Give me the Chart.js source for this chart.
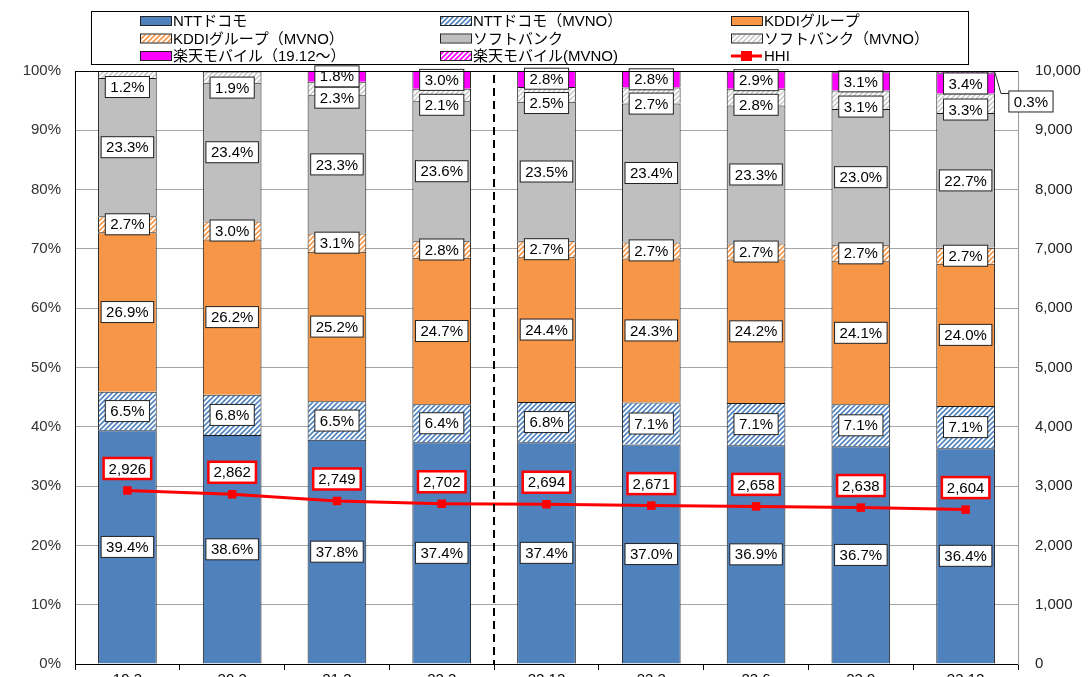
<!DOCTYPE html>
<html>
<head>
<meta charset="utf-8">
<script src="https://cdn.jsdelivr.net/npm/chart.js@4.4.1/dist/chart.umd.min.js"></script>
<style>
  html, body { margin: 0; padding: 0; background: #fff; overflow: hidden; }
  #wrap { width: 1091px; height: 700px; }
</style>
</head>
<body>
<div id="wrap"><canvas id="myChart" width="1091" height="700"></canvas></div>
<script>
const FONT = '"Liberation Sans", Arial, "Noto Sans CJK JP", sans-serif';

// datos (%), lectura del gráfico
const categories = ['19.3', '20.3', '21.3', '22.3', '22.12', '23.3', '23.6', '23.9', '23.12'];
const docomo      = [39.4, 38.6, 37.8, 37.4, 37.4, 37.0, 36.9, 36.7, 36.4];
const docomoMvno  = [6.5, 6.8, 6.5, 6.4, 6.8, 7.1, 7.1, 7.1, 7.1];
const kddi        = [26.9, 26.2, 25.2, 24.7, 24.4, 24.3, 24.2, 24.1, 24.0];
const kddiMvno    = [2.7, 3.0, 3.1, 2.8, 2.7, 2.7, 2.7, 2.7, 2.7];
const softbank    = [23.3, 23.4, 23.3, 23.6, 23.5, 23.4, 23.3, 23.0, 22.7];
const softbankMvno = [1.2, 1.9, 2.3, 2.1, 2.5, 2.7, 2.8, 3.1, 3.3];
const rakuten     = [null, null, 1.8, 3.0, 2.8, 2.8, 2.9, 3.1, 3.4];
const rakutenMvno = [null, null, null, null, null, null, null, null, 0.3];
const hhi         = [2926, 2862, 2749, 2702, 2694, 2671, 2658, 2638, 2604];

const leftTicks = [0, 10, 20, 30, 40, 50, 60, 70, 80, 90, 100];
const rightTicks = [0, 1000, 2000, 3000, 4000, 5000, 6000, 7000, 8000, 9000, 10000];

const ctx = document.getElementById('myChart').getContext('2d');

// rayado diagonal tipo Excel
function hatch(color, size, width) {
    const c = document.createElement('canvas');
    c.width = size; c.height = size;
    const g = c.getContext('2d');
    g.fillStyle = '#fff';
    g.fillRect(0, 0, size, size);
    g.strokeStyle = color;
    g.lineWidth = width;
    g.beginPath();
    g.moveTo(0, size); g.lineTo(size, 0);
    g.moveTo(-2, 2); g.lineTo(2, -2);
    g.moveTo(size - 2, size + 2); g.lineTo(size + 2, size - 2);
    g.stroke();
    return ctx.createPattern(c, 'repeat');
}

function barSet(label, data, color) {
    return {
        type: 'bar',
        label: label,
        data: data,
        backgroundColor: color,
        borderColor: '#1a1a1a',
        borderWidth: 1,
        borderSkipped: 'bottom',
        inflateAmount: 0,
        yAxisID: 'y',
        stack: 's',
        order: 1
    };
}

function drawBox(c, text, x, y, border, lw) {
    const w = c.measureText(text).width + 10;
    const h = 21;
    c.fillStyle = '#fff';
    c.fillRect(x - w / 2, y - h / 2, w, h);
    c.strokeStyle = border;
    c.lineWidth = lw;
    c.strokeRect(x - w / 2, y - h / 2, w, h);
    c.fillStyle = '#000';
    c.fillText(text, x, y + 1);
    return w;
}

// etiquetas de los segmentos y del HHI
const labelsPlugin = {
    id: 'segLabels',
    afterDatasetsDraw(chart) {
        const c = chart.ctx;
        c.save();
        c.font = '15px ' + FONT;
        c.textAlign = 'center';
        c.textBaseline = 'middle';
        chart.data.datasets.forEach((ds, i) => {
            const meta = chart.getDatasetMeta(i);
            meta.data.forEach((el, j) => {
                const v = ds.data[j];
                if (v === null || v === undefined) return;
                if (ds.type === 'line') {
                    drawBox(c, v.toLocaleString('en-US'), el.x, el.y - 22, '#ff0000', 2.5);
                    return;
                }
                const text = v.toFixed(1) + '%';
                let y = (el.y + el.base) / 2;
                if (i === 5) y = el.y + 16;
                if (i === 7) {
                    // llamada con línea guía
                    const right = el.x + el.width / 2;
                    const bx = right + 36;
                    const by = y + 29;
                    c.strokeStyle = '#222';
                    c.lineWidth = 1;
                    c.beginPath();
                    c.moveTo(right, y);
                    c.lineTo(right + 6, by - 8);
                    c.lineTo(right + 16, by - 8);
                    c.stroke();
                    drawBox(c, text, bx, by, '#222', 1);
                    return;
                }
                drawBox(c, text, el.x, y, '#222', 1);
            });
        });
        c.restore();
    }
};

// marco superior, línea discontinua y leyenda
const framePlugin = {
    id: 'frame',
    afterDraw(chart) {
        const c = chart.ctx;
        const a = chart.chartArea;
        const xs = chart.scales.x;
        c.save();
        c.strokeStyle = '#000';
        c.lineWidth = 1;
        c.beginPath();
        c.moveTo(a.left, a.top + 0.5);
        c.lineTo(a.right, a.top + 0.5);
        c.stroke();

        const dx = Math.round((xs.getPixelForValue(3) + xs.getPixelForValue(4)) / 2);
        c.setLineDash([8, 5]);
        c.lineWidth = 2;
        c.beginPath();
        c.moveTo(dx, a.top + 4);
        c.lineTo(dx, a.bottom);
        c.stroke();
        c.setLineDash([]);

        // leyenda 3 x 3
        const lx = 91, ly = 11, lw = 877, lh = 53;
        c.lineWidth = 1;
        c.strokeStyle = '#000';
        c.strokeRect(lx + 0.5, ly + 0.5, lw, lh);
        const cols = [140, 440, 731];
        const rows = [21, 38.5, 56];
        c.font = '15px ' + FONT;
        c.textAlign = 'left';
        c.textBaseline = 'middle';
        chart.data.datasets.forEach((ds, i) => {
            const sx = cols[i % 3];
            const sy = rows[Math.floor(i / 3)];
            if (ds.type === 'line') {
                c.strokeStyle = ds.borderColor;
                c.lineWidth = 3;
                c.beginPath();
                c.moveTo(sx, sy);
                c.lineTo(sx + 31, sy);
                c.stroke();
                c.fillStyle = ds.borderColor;
                c.fillRect(sx + 10, sy - 5, 11, 10);
            } else {
                c.fillStyle = ds.backgroundColor;
                c.fillRect(sx, sy - 4, 31, 8);
                c.strokeStyle = '#222';
                c.lineWidth = 1;
                c.strokeRect(sx + 0.5, sy - 4.5, 31, 9);
            }
            c.fillStyle = '#000';
            c.fillText(ds.label, sx + 33, sy + 1);
        });
        c.restore();
    }
};

new Chart(ctx, {
    data: {
        labels: categories,
        datasets: [
            barSet('NTTドコモ', docomo, '#4f81bd'),
            barSet('NTTドコモ（MVNO）', docomoMvno, hatch('#4f81bd', 5, 1.6)),
            barSet('KDDIグループ', kddi, '#f79646'),
            barSet('KDDIグループ（MVNO）', kddiMvno, hatch('#f79646', 5, 1.6)),
            barSet('ソフトバンク', softbank, '#bfbfbf'),
            barSet('ソフトバンク（MVNO）', softbankMvno, hatch('#c4c4c4', 5, 1.4)),
            barSet('楽天モバイル（19.12～）', rakuten, '#ff00ff'),
            barSet('楽天モバイル(MVNO)', rakutenMvno, hatch('#ff00ff', 5, 1.8)),
            {
                type: 'line',
                label: 'HHI',
                data: hhi,
                borderColor: '#ff0000',
                backgroundColor: '#ff0000',
                borderWidth: 3,
                pointStyle: 'rect',
                pointRadius: 6,
                pointBorderWidth: 0,
                yAxisID: 'y2',
                order: 0
            }
        ]
    },
    options: {
        responsive: false,
        animation: false,
        devicePixelRatio: 1,
        layout: { padding: { top: 71, left: 0, right: 0, bottom: 0 } },
        datasets: {
            bar: { categoryPercentage: 1, barPercentage: 0.56 }
        },
        plugins: {
            legend: { display: false },
            tooltip: { enabled: false }
        },
        scales: {
            x: {
                stacked: true,
                afterFit: s => { s.height = 36; },
                border: { display: true, color: '#000', width: 1 },
                grid: { offset: true, drawOnChartArea: false, drawTicks: true, tickLength: 6, color: '#000' },
                ticks: { color: '#000', padding: 1, font: { family: FONT, size: 15 } }
            },
            y: {
                stacked: true,
                position: 'left',
                min: 0,
                max: 100,
                afterFit: s => { s.width = 75; },
                afterBuildTicks: s => { s.ticks = leftTicks.map(v => ({ value: v })); },
                border: { display: true, color: '#000', width: 1 },
                grid: { color: '#a6a6a6', drawTicks: false },
                ticks: { color: '#333', padding: 14, font: { family: FONT, size: 15 }, callback: v => v + '%' }
            },
            y2: {
                position: 'right',
                min: 0,
                max: 10000,
                afterFit: s => { s.width = 73; },
                afterBuildTicks: s => { s.ticks = rightTicks.map(v => ({ value: v })); },
                border: { display: true, color: '#999', width: 1 },
                grid: { drawOnChartArea: false, drawTicks: false },
                ticks: { color: '#222', padding: 17, font: { family: FONT, size: 15 }, callback: v => v.toLocaleString('en-US') }
            }
        }
    },
    plugins: [labelsPlugin, framePlugin]
});
</script>
</body>
</html>
